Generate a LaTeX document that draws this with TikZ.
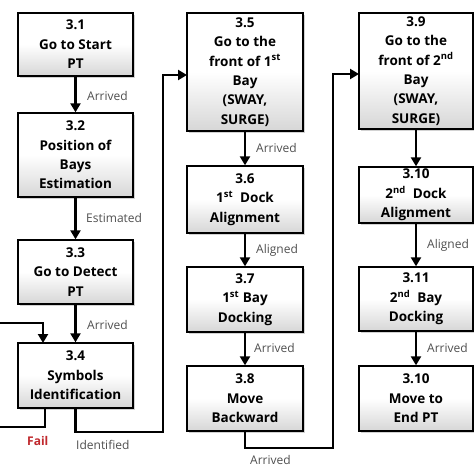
\documentclass[tikz,border=0pt]{standalone}
\usepackage{fontspec}
\setmainfont{Open Sans}
\usetikzlibrary{arrows.meta,shadows}
\definecolor{lblgray}{HTML}{505050}
\definecolor{failred}{HTML}{C0282D}
\begin{document}
\begin{tikzpicture}[x=1pt,y=-1pt,
  box/.style={draw=black, line width=1.4pt, rectangle, align=center, inner sep=0pt,
    top color=white, bottom color=black!16, middle color=white,
    drop shadow={opacity=0.35, shadow xshift=1.5pt, shadow yshift=-2pt},
    font=\fontsize{13.5}{19.4}\selectfont\bfseries},
  conn/.style={line width=2.8pt, draw=black},
  arr/.style={conn, -{Triangle[length=9pt,width=10pt]}},
  lbl/.style={anchor=west, inner sep=0pt, text=lblgray, font=\fontsize{12}{13}\selectfont}]
\useasboundingbox (0,0) rectangle (474,474);
\clip (0,0) rectangle (474,474);
\fill[white] (0,0) rectangle (474,474);

% column 1
\node[box, minimum width=115pt, minimum height=63pt] (b1) at (75.5,44.5) {3.1\\Go to Start\\PT};
\node[box, minimum width=115pt, minimum height=84pt] (b2) at (75.5,155) {3.2\\Position of\\Bays\\Estimation};
\node[box, minimum width=115pt, minimum height=64pt] (b3) at (75.5,272) {3.3\\Go to Detect\\PT};
\node[box, minimum width=115pt, minimum height=65pt] (b4) at (75.5,375.5) {3.4\\Symbols\\Identification};
% column 2
\node[box, minimum width=116pt, minimum height=118pt] (b5) at (245,72) {3.5\\Go to the\\front of 1\textsuperscript{st}\\Bay\\(SWAY,\\SURGE)};
\node[box, minimum width=116pt, minimum height=67pt] (b6) at (245,199.5) {3.6\\1\textsuperscript{st}\ \ Dock\\Alignment};
\node[box, minimum width=116pt, minimum height=65pt] (b7) at (245,299.5) {3.7\\1\textsuperscript{st} Bay\\Docking};
\node[box, minimum width=116pt, minimum height=65pt] (b8) at (245,398.5) {3.8\\Move\\Backward};
% column 3
\node[box, minimum width=114pt, minimum height=116pt] (b9) at (416,71) {3.9\\Go to the\\front of 2\textsuperscript{nd}\\Bay\\(SWAY,\\SURGE)};
\node[box, minimum width=114pt, minimum height=56pt] (b10) at (416,195) {3.10\\2\textsuperscript{nd}\ \ Dock\\Alignment};
\node[box, minimum width=114pt, minimum height=64pt] (b11) at (416,299) {3.11\\2\textsuperscript{nd}\ \ Bay\\Docking};
\node[box, minimum width=114pt, minimum height=65pt] (b12) at (416,398.5) {3.10\\Move to\\End PT};

% straight arrows
\draw[arr] (b1) -- (b2);
\draw[arr] (b2) -- (b3);
\draw[arr] (b3) -- (b4);
\draw[arr] (b5) -- (b6);
\draw[arr] (b6) -- (b7);
\draw[arr] (b7) -- (b8);
\draw[arr] (b9) -- (b10);
\draw[arr] (b10) -- (b11);
\draw[arr] (b11) -- (b12);

% fail loop
\coordinate (f0) at (45,408);
\coordinate (f1) at (-5,427);
\coordinate (f2) at (-5,323);
\coordinate (f3) at (43,343);
\draw[conn] (f0) |- (f1);
\draw[arr] (f2) -| (f3);

% identified
\coordinate (i1) at (163,432);
\coordinate (i2) at (187,75);
\draw[arr] (b4.south) |- (i1) |- (i2);

% arrived to second bay
\coordinate (a1) at (333,448);
\coordinate (a2) at (359,74);
\draw[arr] (b8.south) |- (a1) |- (a2);

% labels
\node[lbl] (l1) at (87,96) {Arrived};
\node[lbl] (l2) at (86,218) {Estimated};
\node[lbl] (l3) at (87,325) {Arrived};
\node[lbl] (l4) at (256,148) {Arrived};
\node[lbl] (l5) at (256,250) {Aligned};
\node[lbl] (l6) at (254,348) {Arrived};
\node[lbl] (l7) at (427,245) {Aligned};
\node[lbl] (l8) at (427,348) {Arrived};
\node[lbl, text=failred, font=\fontsize{12}{13}\selectfont\bfseries] (l9) at (27,441) {Fail};
\node[lbl] (l10) at (76,445) {Identified};
\node[lbl] (l11) at (250,460) {Arrived};
\end{tikzpicture}
\end{document}
